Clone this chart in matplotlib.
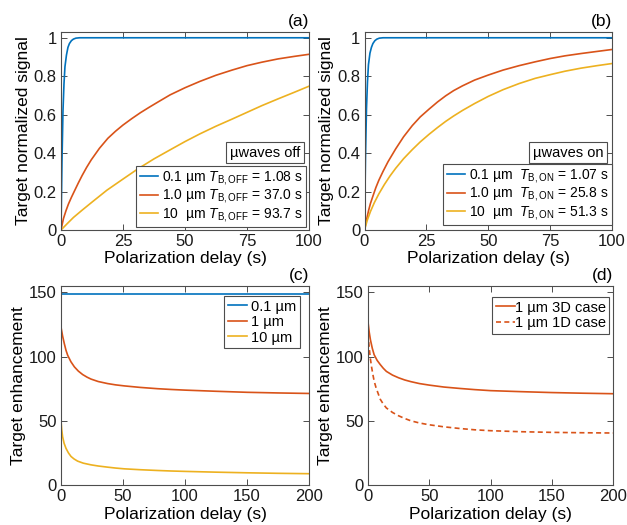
import numpy as np
import matplotlib.pyplot as plt
from matplotlib.ticker import FuncFormatter

plt.rcParams['font.family'] = ['Liberation Sans', 'DejaVu Sans']
plt.rcParams['mathtext.fontset'] = 'custom'
plt.rcParams['mathtext.rm'] = 'Liberation Sans'
plt.rcParams['mathtext.it'] = 'Liberation Sans:italic'

BLUE, ORANGE, YELLOW = '#0072BD', '#D95319', '#EDB120'
AXC = '#4d4d4d'

# (a) microwaves off: target normalized signal vs polarization delay
a_blue_x = [0, 0.4, 0.8, 1.2, 1.6, 2.2, 2.8, 3.4, 4.2, 5.0, 6.0, 7.5, 100]
a_blue_y = [0, 0.36, 0.62, 0.76, 0.85, 0.91, 0.95, 0.97, 0.985, 0.993, 0.998, 1.0, 1.0]
a_orange_x = [0, 1, 2, 3, 4.2, 5.5, 7, 8.5, 10.3, 12.2, 15.5, 18.9, 22, 25, 28.5,
              32, 35.5, 39, 44, 50, 56, 62.5, 69, 75, 81, 87.5, 94, 100]
a_orange_y = [0, 0.06, 0.1, 0.135, 0.17, 0.205, 0.245, 0.283, 0.325, 0.365, 0.425,
              0.477, 0.514, 0.546, 0.579, 0.61, 0.638, 0.665, 0.703, 0.74, 0.773,
              0.805, 0.832, 0.855, 0.873, 0.89, 0.903, 0.914]
a_yellow_x = [0, 2.5, 5, 8.5, 12.5, 18.5, 25, 31, 37.5, 44, 50, 56, 62.5, 69, 75,
              81, 87.5, 94, 100]
a_yellow_y = [0, 0.033, 0.065, 0.103, 0.145, 0.207, 0.265, 0.318, 0.37, 0.417,
              0.46, 0.5, 0.54, 0.577, 0.612, 0.647, 0.682, 0.716, 0.748]
a_labels = ['0.1 µm $T_{\\mathrm{B,OFF}}$ = 1.08 s',
            '1.0 µm $T_{\\mathrm{B,OFF}}$ = 37.0 s',
            '10  µm $T_{\\mathrm{B,OFF}}$ = 93.7 s']

# (b) microwaves on
b_blue_x = [0, 0.4, 0.8, 1.2, 1.6, 2.2, 2.8, 3.4, 4.2, 5.0, 6.0, 7.5, 100]
b_blue_y = [0, 0.38, 0.63, 0.77, 0.86, 0.92, 0.95, 0.97, 0.985, 0.993, 0.998, 1.0, 1.0]
b_orange_x = [0, 0.5, 1.1, 1.7, 2.4, 3.5, 4.6, 5.8, 7.5, 9.5, 12.6, 15.8, 19.3,
              22.5, 26.1, 29.5, 32.8, 36, 39.6, 44.5, 50, 56, 62.5, 69, 75, 81,
              87.5, 94, 100]
b_orange_y = [0, 0.035, 0.07, 0.104, 0.138, 0.18, 0.221, 0.259, 0.305, 0.355,
              0.422, 0.485, 0.543, 0.588, 0.629, 0.666, 0.698, 0.725, 0.75, 0.78,
              0.806, 0.832, 0.855, 0.875, 0.892, 0.906, 0.918, 0.929, 0.939]
b_yellow_x = [0, 1.1, 2.4, 4, 5.8, 8, 10.3, 12.6, 15.8, 19.3, 22.5, 26.1, 29.5,
              32.8, 36, 39.6, 44.5, 50, 56, 62.5, 69, 75, 81, 87.5, 94, 100]
b_yellow_y = [0, 0.05, 0.096, 0.143, 0.188, 0.236, 0.281, 0.321, 0.371, 0.418,
              0.458, 0.498, 0.533, 0.565, 0.593, 0.622, 0.658, 0.695, 0.73, 0.762,
              0.789, 0.808, 0.826, 0.842, 0.855, 0.866]
b_labels = ['0.1 µm  $T_{\\mathrm{B,ON}}$ = 1.07 s',
            '1.0 µm  $T_{\\mathrm{B,ON}}$ = 25.8 s',
            '10  µm  $T_{\\mathrm{B,ON}}$ = 51.3 s']

# (c) target enhancement
c_blue_x = [0, 200]
c_blue_y = [149, 149]
c_orange_x = [0, 1.3, 2.7, 4, 5.4, 8, 10.8, 14, 17.5, 21, 24.2, 30, 37.6, 44, 51,
              64, 78, 89, 100, 125, 150, 175, 200]
c_orange_y = [123, 116, 110, 105, 101, 96, 92, 88.7, 86, 84, 82.5, 80.6, 79, 78,
              77.2, 76, 75.0, 74.4, 73.9, 73.0, 72.2, 71.7, 71.3]
c_yellow_x = [0, 0.6, 1.3, 2.5, 4, 6, 8.1, 10.5, 13.4, 18, 24.2, 30, 37.6, 44, 51,
              64, 78, 89, 100, 125, 150, 175, 200]
c_yellow_y = [50, 43, 37.6, 32.5, 28.6, 25, 22.2, 20.3, 18.6, 17.0, 15.7, 14.8, 13.9,
              13.2, 12.6, 11.9, 11.3, 10.9, 10.6, 10.0, 9.5, 9.1, 8.8]
c_labels = ['0.1 µm', '1 µm', '10 µm']

# (d) 3D vs 1D model, 1 µm
d_3d_x = [0, 1, 2, 3.5, 5, 7.5, 10, 12.5, 15, 20, 25, 30, 35, 42, 50, 62, 75, 87,
          100, 125, 150, 175, 200]
d_3d_y = [127, 119, 113, 106.5, 101.5, 97, 93.8, 90.9, 88.5, 85.6, 83.5, 81.8,
          80.5, 79, 77.8, 76.3, 75.2, 74.3, 73.5, 72.7, 72.0, 71.5, 71.1]
d_1d_x = [0, 0.5, 1, 1.5, 2, 3, 4, 5, 6.5, 8, 10, 12.5, 15, 20, 25, 30, 35, 42, 50,
          62, 75, 87, 100, 125, 150, 175, 200]
d_1d_y = [118, 112, 107, 102, 98, 91.5, 86, 81, 76, 72, 66.8, 63, 60, 56.5, 53.9,
          51.8, 50, 48.3, 46.9, 45.3, 44, 43, 42.3, 41.5, 41, 40.7, 40.5]
d_labels = ['1 µm 3D case', '1 µm 1D case']


def style(ax):
    for s in ax.spines.values():
        s.set_color(AXC)
        s.set_linewidth(0.8)
    ax.tick_params(direction='in', top=True, right=True, length=4, width=0.7,
                   color=AXC, labelsize=12, labelcolor='#1a1a1a', pad=3)


def trim(v, pos):
    return ('%g' % v)


fig = plt.figure(figsize=(6.27, 5.25), dpi=100)
axa = fig.add_axes([61 / 627, 295 / 525, 248 / 627, 198 / 525])
axb = fig.add_axes([364.5 / 627, 295 / 525, 247.5 / 627, 198 / 525])
axc = fig.add_axes([61 / 627, 40 / 525, 248 / 627, 199 / 525])
axd = fig.add_axes([368 / 627, 40 / 525, 245 / 627, 199 / 525])

lw = 1.2
leg_kw = dict(fontsize=10, fancybox=False, framealpha=1, borderaxespad=0,
              handlelength=1.3, handletextpad=0.3, labelspacing=0.02,
              borderpad=0.25)

# top row
for ax, data, labels, note in [
        (axa, [(a_blue_x, a_blue_y, BLUE), (a_orange_x, a_orange_y, ORANGE),
               (a_yellow_x, a_yellow_y, YELLOW)], a_labels, 'µwaves off'),
        (axb, [(b_blue_x, b_blue_y, BLUE), (b_orange_x, b_orange_y, ORANGE),
               (b_yellow_x, b_yellow_y, YELLOW)], b_labels, 'µwaves on')]:
    for (x, y, c), lab in zip(data, labels):
        ax.plot(x, y, color=c, lw=lw, label=lab)
    ax.set_xlim(0, 100)
    ax.set_ylim(0, 1.03)
    ax.set_xticks([0, 25, 50, 75, 100])
    ax.set_yticks([0, 0.2, 0.4, 0.6, 0.8, 1])
    ax.yaxis.set_major_formatter(FuncFormatter(trim))
    style(ax)
    ax.set_xlabel('Polarization delay (s)', fontsize=12.5, labelpad=1)
    ax.set_ylabel('Target normalized signal', fontsize=12.5, labelpad=2)
    leg = ax.legend(loc='lower right', bbox_to_anchor=(0.99, 0.015), **leg_kw)
    leg.get_frame().set_edgecolor(AXC)
    leg.get_frame().set_linewidth(0.8)
    ax.text(0.822, 0.39, note, transform=ax.transAxes, fontsize=10.5,
            ha='center', va='center',
            bbox=dict(boxstyle='square,pad=0.25', fc='white', ec=AXC, lw=0.8))

axa.legend_.set_bbox_to_anchor((0.988, 0.015), transform=axa.transAxes)
axb.legend_.set_bbox_to_anchor((1.0, 0.025), transform=axb.transAxes)

# bottom row
axc.plot(c_blue_x, c_blue_y, color=BLUE, lw=lw, label=c_labels[0])
axc.plot(c_orange_x, c_orange_y, color=ORANGE, lw=lw, label=c_labels[1])
axc.plot(c_yellow_x, c_yellow_y, color=YELLOW, lw=lw, label=c_labels[2])
axd.plot(d_3d_x, d_3d_y, color=ORANGE, lw=lw, label=d_labels[0])
axd.plot(d_1d_x, d_1d_y, color=ORANGE, lw=lw, ls=(0, (3, 2)), label=d_labels[1])

for ax in (axc, axd):
    ax.set_xlim(0, 200)
    ax.set_ylim(0, 155)
    ax.set_xticks([0, 50, 100, 150, 200])
    ax.set_yticks([0, 50, 100, 150])
    style(ax)
    ax.set_xlabel('Polarization delay (s)', fontsize=12.5, labelpad=2)
    ax.set_ylabel('Target enhancement', fontsize=12.5, labelpad=2)

kw = dict(leg_kw)
kw['fontsize'] = 10.5
kw['labelspacing'] = 0.1
legc = axc.legend(loc='upper right', bbox_to_anchor=(0.964, 0.95), **kw)
kw['handletextpad'] = 0.0
legd = axd.legend(loc='upper right', bbox_to_anchor=(0.985, 0.945), **kw)
for leg in (legc, legd):
    leg.get_frame().set_edgecolor(AXC)
    leg.get_frame().set_linewidth(0.8)

for ax, tag in [(axa, '(a)'), (axb, '(b)'), (axc, '(c)'), (axd, '(d)')]:
    ax.text(1.0, 1.015, tag, transform=ax.transAxes, ha='right', va='bottom',
            fontsize=12.5)

fig.savefig('out.png', dpi=100)
